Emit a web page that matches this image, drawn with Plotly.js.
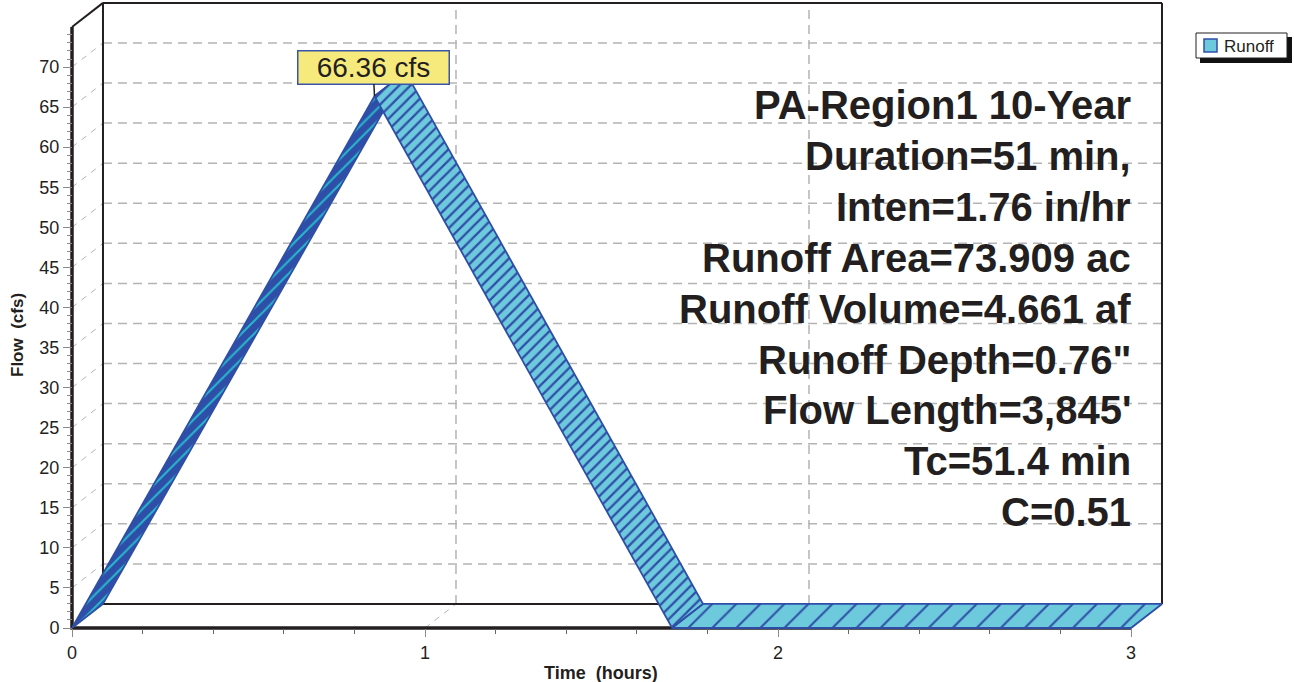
<!DOCTYPE html>
<html><head><meta charset="utf-8">
<script src="https://cdn.plot.ly/plotly-3.0.1.min.js"></script>
<style>html,body{margin:0;padding:0;background:#fff}#chart{width:1294px;height:682px}</style>
</head><body><div id="chart"></div>
<script>
// ---- data ----
const hydroTime = [0, 0.857, 1.70, 3.0];   // hours (key points of the hydrograph)
const hydroFlow = [0, 66.36, 0, 0];        // cfs
const peakTime = 0.857;
const peakFlow = 66.36;
const peakLabel = '66.36 cfs';
const seriesName = 'Runoff';
const xTickVals = [0, 1, 2, 3];
const xTickText = ['0', '1', '2', '3'];
const yTickVals = [0, 5, 10, 15, 20, 25, 30, 35, 40, 45, 50, 55, 60, 65, 70];
const yTickText = ['0', '5', '10', '15', '20', '25', '30', '35', '40', '45', '50', '55', '60', '65', '70'];
const infoLines = ['PA-Region1 10-Year', 'Duration=51 min,', 'Inten=1.76 in/hr', 'Runoff Area=73.909 ac',
  'Runoff Volume=4.661 af', 'Runoff Depth=0.76"', "Flow Length=3,845'", 'Tc=51.4 min', 'C=0.51'];
const xTitle = 'Time\u00a0\u00a0(hours)';
const yTitle = 'Flow\u00a0\u00a0(cfs)';
const xEnd = 3, yTop = 75;

// ---- styling / 3D depth offset in axis units ----
const DX = 0.0878, DY = 3;
const FONT = 'Liberation Sans, Arial, sans-serif';
const CYAN = '#6dcadc', BLUE = '#2f4ea8', GRID = '#b4b4b4', INK = '#231f20';

function seg(list) { // list of [[x0,y0],[x1,y1]] -> x,y arrays with gaps
  const x = [], y = [];
  list.forEach(s => { s.forEach(p => { x.push(p[0]); y.push(p[1]); }); x.push(null); y.push(null); });
  return {x, y};
}
const traces = [];
// back-wall horizontal grid
const hg = seg(yTickVals.filter(v => v > 0).map(v => [[DX, v + DY], [xEnd + DX, v + DY]]));
traces.push({x: hg.x, y: hg.y, mode: 'lines', line: {color: GRID, width: 1.5, dash: '9px,6px'}, hoverinfo: 'skip', showlegend: false});
// back-wall vertical grid
const vg = seg(xTickVals.filter(t => t > 0 && t < xEnd).map(t => [[t + DX, DY], [t + DX, yTop + DY]]));
traces.push({x: vg.x, y: vg.y, mode: 'lines', line: {color: GRID, width: 1.5, dash: '9px,6px'}, hoverinfo: 'skip', showlegend: false});
// side / floor diagonals
const dg = seg(yTickVals.filter(v => v > 0).map(v => [[0, v], [DX, v + DY]])
  .concat(xTickVals.filter(t => t > 0 && t < xEnd).map(t => [[t, 0], [t + DX, DY]])));
traces.push({x: dg.x, y: dg.y, mode: 'lines', line: {color: GRID, width: 1, dash: '6px,6px'}, hoverinfo: 'skip', showlegend: false});
// back frame
const fr = seg([[[DX, DY], [DX, yTop + DY]], [[0, yTop], [DX, yTop + DY]], [[DX, yTop + DY], [xEnd + DX, yTop + DY]],
  [[xEnd + DX, yTop + DY], [xEnd + DX, DY]], [[DX, DY], [xEnd + DX, DY]]]);
traces.push({x: fr.x, y: fr.y, mode: 'lines', line: {color: INK, width: 2}, hoverinfo: 'skip', showlegend: false});
// front axes
traces.push({x: [0, 0, xEnd], y: [yTop, 0, 0], mode: 'lines', line: {color: INK, width: 3.5}, hoverinfo: 'skip', showlegend: false});

// ribbon segments (rising, falling, flat)
const patterns = [
  {fill: BLUE, pat: {shape: '/', fgcolor: '#27b8cc', bgcolor: BLUE, size: 9, solidity: 0.22}},
  {fill: CYAN, pat: {shape: '/', fgcolor: BLUE, bgcolor: CYAN, size: 8, solidity: 0.28}},
  {fill: CYAN, pat: {shape: '/', fgcolor: BLUE, bgcolor: CYAN, size: 17, solidity: 0.12}}
];
for (let i = 0; i < hydroTime.length - 1; i++) {
  const xs = [hydroTime[i], hydroTime[i + 1], hydroTime[i + 1] + DX, hydroTime[i] + DX, hydroTime[i]];
  const ys = [hydroFlow[i], hydroFlow[i + 1], hydroFlow[i + 1] + DY, hydroFlow[i] + DY, hydroFlow[i]];
  const p = patterns[Math.min(i, patterns.length - 1)];
  traces.push({x: xs, y: ys, mode: 'lines', fill: 'toself', fillcolor: p.fill, fillpattern: p.pat,
    name: seriesName, line: {color: BLUE, width: 1.8}, hoverinfo: 'skip', showlegend: false});
}

// pixel helpers for paper placement
const W = 1294, H = 682, ML = 65, MR = 124, MT = 1, MB = 49;
const PW = W - ML - MR, PH = H - MT - MB;
const px = v => (v - ML) / PW;
const py = v => (H - MB - v) / PH;

const annotations = infoLines.map((t, i) => ({
  text: t, xref: 'paper', yref: 'paper', x: px(1133), y: py(105 + i * 50.9), xanchor: 'right', yanchor: 'middle',
  showarrow: false, font: {family: FONT, size: 40, color: INK, weight: 'bold'}
}));
annotations.push({text: xTitle, xref: 'paper', yref: 'paper', x: px(601), y: py(673), xanchor: 'center', yanchor: 'middle',
  showarrow: false, font: {family: FONT, size: 18, color: INK, weight: 'bold'}});
annotations.push({text: yTitle, xref: 'paper', yref: 'paper', x: px(18), y: py(335), xanchor: 'center', yanchor: 'middle',
  textangle: -90, showarrow: false, font: {family: FONT, size: 17, color: INK, weight: 'bold'}});
annotations.push({text: peakLabel, x: peakTime, y: peakFlow, xref: 'x', yref: 'y', showarrow: true, arrowhead: 0,
  arrowwidth: 1.5, arrowcolor: INK, ax: -1.5, ay: -29, standoff: 0, bgcolor: '#f7ea7c', bordercolor: '#3a55a8',
  borderwidth: 1.5, borderpad: 1, width: 148, height: 30, font: {family: FONT, size: 28, color: INK}});
// legend text
annotations.push({text: seriesName, xref: 'paper', yref: 'paper', x: px(1222), y: py(46), xanchor: 'left', yanchor: 'middle',
  showarrow: false, font: {family: FONT, size: 17, color: INK}});

const minorY = [];
for (let v = 0; v <= yTop; v += 1) if (v % 5) minorY.push(v);

const layout = {
  width: W, height: H, margin: {l: ML, r: MR, t: MT, b: MB, pad: 0},
  paper_bgcolor: '#fff', plot_bgcolor: '#fff', showlegend: false,
  font: {family: FONT, color: INK},
  xaxis: {range: [-7 / 353, -7 / 353 + PW / 353], anchor: 'free', position: 5 / PH, domain: [0, 1],
    tickmode: 'array', tickvals: xTickVals, ticktext: xTickText, ticks: 'outside', ticklen: 8, tickwidth: 1,
    tickcolor: '#8a8a8a', tickfont: {family: FONT, size: 18, color: INK},
    minor: {ticks: 'outside', dtick: 0.2, tick0: 0, ticklen: 5, tickwidth: 1, tickcolor: '#666'},
    showgrid: false, zeroline: false, showline: false, fixedrange: true},
  yaxis: {range: [-5 / 8.014, 627 / 8.014], anchor: 'free', position: 7 / PW, domain: [0, 1],
    tickmode: 'array', tickvals: yTickVals, ticktext: yTickText, ticks: 'outside', ticklen: 9, tickwidth: 1,
    tickcolor: '#8a8a8a', tickfont: {family: FONT, size: 18, color: INK},
    minor: {ticks: 'outside', tickmode: 'array', tickvals: minorY, ticklen: 5, tickwidth: 1, tickcolor: '#8a8a8a'},
    showgrid: false, zeroline: false, showline: false, fixedrange: true},
  shapes: [
    // legend shadow, box and swatch
    {type: 'rect', xref: 'paper', yref: 'paper', x0: px(1200), x1: px(1292), y0: py(63), y1: py(37),
      fillcolor: '#111', line: {width: 0}, layer: 'above'},
    {type: 'rect', xref: 'paper', yref: 'paper', x0: px(1196), x1: px(1287), y0: py(58), y1: py(33),
      fillcolor: '#fff', line: {color: INK, width: 1}, layer: 'above'},
    {type: 'rect', xref: 'paper', yref: 'paper', x0: px(1204), x1: px(1217), y0: py(52), y1: py(39),
      fillcolor: CYAN, line: {color: BLUE, width: 1.5}, layer: 'above'}
  ],
  annotations: annotations
};
Plotly.newPlot('chart', traces, layout, {displayModeBar: false, staticPlot: true});
</script></body></html>
